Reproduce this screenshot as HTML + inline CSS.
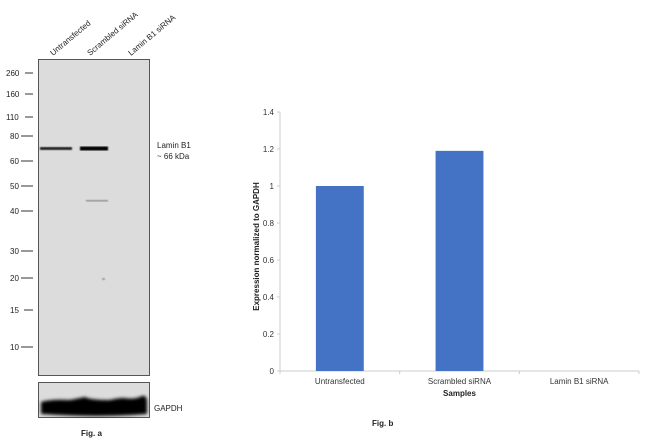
<!DOCTYPE html>
<html><head><meta charset="utf-8"><style>
body{margin:0;background:#fff;width:650px;height:443px;overflow:hidden;font-family:"Liberation Sans",sans-serif}
</style></head><body>
<svg width="650" height="443" viewBox="0 0 650 443" font-family="Liberation Sans, sans-serif">
<defs>
<filter id="blur1"><feGaussianBlur stdDeviation="0.8"/></filter>
<filter id="blur2"><feGaussianBlur stdDeviation="1.5"/></filter>
</defs>
<g>
  <g font-size="8" fill="#222">
    <text transform="translate(53,56) rotate(-40)">Untransfected</text>
    <text transform="translate(90,56) rotate(-40)">Scrambled siRNA</text>
    <text transform="translate(131,56) rotate(-40)">Lamin B1 siRNA</text>
  </g>
  <rect x="38.5" y="59.5" width="111" height="316" fill="#dcdcdc" stroke="#555" stroke-width="1"/>
  <rect x="40" y="147" width="32" height="3" fill="#222" filter="url(#blur1)"/>
  <rect x="80" y="146.5" width="28" height="4" fill="#000" filter="url(#blur1)"/>
  <rect x="86" y="200" width="22" height="1.5" fill="#888" filter="url(#blur1)"/>
  <rect x="102" y="278" width="3" height="2" fill="#999" filter="url(#blur1)"/>
  <g font-size="8" fill="#222">
    <text x="6" y="76">260</text><line x1="25" x2="33" y1="73" y2="73" stroke="#333"/>
    <text x="6" y="97">160</text><line x1="25" x2="33" y1="94" y2="94" stroke="#333"/>
    <text x="6" y="120">110</text><line x1="25" x2="33" y1="117" y2="117" stroke="#333"/>
    <text x="10" y="139">80</text><line x1="21" x2="33" y1="136" y2="136" stroke="#333"/>
    <text x="10" y="164">60</text><line x1="21" x2="33" y1="161" y2="161" stroke="#333"/>
    <text x="10" y="189">50</text><line x1="21" x2="33" y1="186" y2="186" stroke="#333"/>
    <text x="10" y="214">40</text><line x1="21" x2="33" y1="211" y2="211" stroke="#333"/>
    <text x="10" y="254">30</text><line x1="21" x2="33" y1="251" y2="251" stroke="#333"/>
    <text x="10" y="281">20</text><line x1="21" x2="33" y1="278" y2="278" stroke="#333"/>
    <text x="10" y="313">15</text><line x1="24" x2="33" y1="310" y2="310" stroke="#333"/>
    <text x="10" y="350">10</text><line x1="21" x2="33" y1="347" y2="347" stroke="#333"/>
  </g>
  <text x="157" y="148" font-size="8" fill="#222">Lamin B1</text>
  <text x="157" y="159" font-size="8" fill="#222">~ 66 kDa</text>
  <rect x="38.5" y="382.5" width="111" height="35" fill="#dcdcdc" stroke="#555"/>
  <path d="M41,402 Q50,399 70,400 Q80,398 85,397 Q90,400 110,400 Q118,398 124,398 Q135,400 142,396 Q147,395 147,402 L147,414 Q100,418 41,414 Z" fill="#000" filter="url(#blur2)"/>
  <text x="154" y="411" font-size="8" fill="#222">GAPDH</text>
  <text x="81" y="436" font-size="8" font-weight="bold" fill="#222">Fig. a</text>
</g>
<g id="chart"></g>
<text x="372" y="426" font-size="8" font-weight="bold" fill="#222">Fig. b</text>
</svg>
<script>
const categories=["Untransfected","Scrambled siRNA","Lamin B1 siRNA"];
const values=[1.0,1.19,0];
const yTicks=[0,0.2,0.4,0.6,0.8,1,1.2,1.4];
const yTickLabels=["0","0.2","0.4","0.6","0.8","1","1.2","1.4"];
const NS="http://www.w3.org/2000/svg";
const g=document.getElementById('chart');
const X0=280,X1=639,Y0=371,YT=112,YMAX=1.4;
const y=v=>Y0-(v/YMAX)*(Y0-YT);
const band=(X1-X0)/categories.length;
const xc=i=>X0+band*(i+0.5);
function mk(t,a,txt){const e=document.createElementNS(NS,t);for(const k in a)e.setAttribute(k,a[k]);if(txt!==undefined)e.textContent=txt;g.appendChild(e);return e;}
let e=mk('line',{x1:X0,x2:X0,y1:YT,y2:Y0,stroke:'#ccc'});


e=mk('line',{x1:X0,x2:X1,y1:Y0,y2:Y0,stroke:'#ccc'});


yTicks.forEach((v,i)=>{
  let t=mk('line',{x1:X0-3,x2:X0,y1:y(v),y2:y(v),stroke:'#ccc'});
  
  
  let l=mk('text',{x:X0-6,y:y(v)+3,'font-size':8,'text-anchor':'end',fill:'#333'},yTickLabels[i]);
  
  
});
for(let i=0;i<=categories.length;i++){
  let t=mk('line',{x1:X0+band*i,x2:X0+band*i,y1:Y0,y2:Y0+3,stroke:'#ccc'});
  
  
}
categories.forEach((c,i)=>{
  const bw=band*0.4;
  let b=mk('rect',{x:xc(i)-bw/2,y:y(values[i]),width:bw,height:Y0-y(values[i]),fill:'#4472c4'});
  
  
  let l=mk('text',{x:xc(i),y:Y0+13,'font-size':8,'text-anchor':'middle',fill:'#333'},c);
  
  
});
e=mk('text',{x:(X0+X1)/2,y:Y0+25,'font-size':8,'font-weight':'bold','text-anchor':'middle',fill:'#222'},'Samples');


e=mk('text',{transform:`translate(259,${(YT+Y0)/2+5}) rotate(-90)`,'font-size':8,'font-weight':'bold','text-anchor':'middle',fill:'#222'},'Expression normalized to GAPDH');


</script>
</body></html>
